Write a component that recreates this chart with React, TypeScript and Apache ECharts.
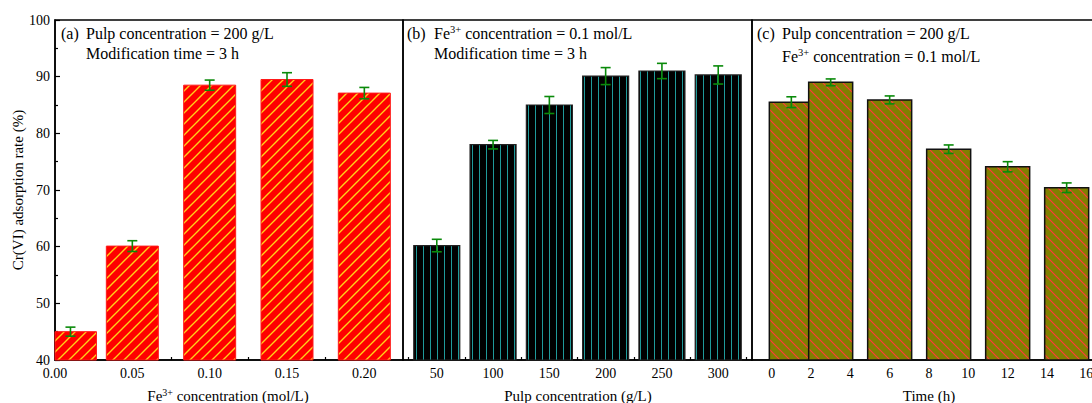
import React, { useEffect, useRef } from 'react';
import * as echarts from 'echarts';

// ---------- data ----------
const feConc = [0.01, 0.05, 0.1, 0.15, 0.2];
const feRate = [45.0, 60.1, 88.5, 89.5, 87.1];
const feErr = [0.8, 0.95, 0.9, 1.2, 1.0];

const pulpConc = [50, 100, 150, 200, 250, 300];
const pulpRate = [60.2, 78.0, 85.0, 90.1, 91.0, 90.3];
const pulpErr = [1.1, 0.75, 1.5, 1.5, 1.35, 1.6];

const timeH = [1, 3, 6, 9, 12, 15];
const timeRate = [85.5, 89.0, 85.9, 77.2, 74.1, 70.4];
const timeErr = [0.95, 0.6, 0.7, 0.75, 0.9, 0.85];

const feTicks = [0, 0.05, 0.1, 0.15, 0.2];
const feMinor = [0.025, 0.075, 0.125, 0.175];
const pulpTicks = [50, 100, 150, 200, 250, 300];
const pulpMinor = [25, 75, 125, 175, 225, 275, 325];
const timeTicks = [0, 2, 4, 6, 8, 10, 12, 14, 16];
const timeMinor = [1, 3, 5, 7, 9, 11, 13, 15];

const serif = "'Liberation Serif', 'Times New Roman', serif";

function makePattern(bg: string, line: string, size: number, kind: string, lw: number) {
  const c = document.createElement('canvas');
  c.width = size;
  c.height = size;
  const g = c.getContext('2d')!;
  g.fillStyle = bg;
  g.fillRect(0, 0, size, size);
  g.strokeStyle = line;
  g.lineWidth = lw;
  g.beginPath();
  if (kind === 'vert') {
    g.moveTo(size / 2, 0);
    g.lineTo(size / 2, size);
  } else if (kind === 'fwd') {
    g.moveTo(0, size); g.lineTo(size, 0);
    g.moveTo(-size / 2, size / 2); g.lineTo(size / 2, -size / 2);
    g.moveTo(size / 2, size * 1.5); g.lineTo(size * 1.5, size / 2);
  } else {
    g.moveTo(0, 0); g.lineTo(size, size);
    g.moveTo(-size / 2, size / 2); g.lineTo(size / 2, size * 1.5);
    g.moveTo(size / 2, -size / 2); g.lineTo(size * 1.5, size / 2);
  }
  g.stroke();
  return { image: c.toDataURL(), repeat: 'repeat', imageWidth: size, imageHeight: size } as any;
}

// bars drawn through the axes' scales, clipped to the plot rectangle
function barSeries(xIdx: number, yIdx: number, xs: number[], ys: number[], width: number, fill: any, stroke: string, lw: number) {
  return {
    type: 'custom',
    xAxisIndex: xIdx,
    yAxisIndex: yIdx,
    z: 2,
    encode: { x: 0, y: 1 },
    data: xs.map((x, i) => [x, ys[i]]),
    renderItem: (params: any, api: any) => {
      const top = api.coord([api.value(0), api.value(1)]);
      const cs = params.coordSys;
      const bottom = cs.y + cs.height;
      const rect = echarts.graphic.clipRectByRect(
        { x: top[0] - width / 2, y: top[1], width, height: bottom - top[1] },
        { x: cs.x, y: cs.y, width: cs.width, height: cs.height }
      );
      if (!rect) return null;
      return {
        type: 'rect',
        shape: rect,
        style: { fill, stroke, lineWidth: lw },
      };
    },
  };
}

function errSeries(xIdx: number, yIdx: number, xs: number[], ys: number[], es: number[]) {
  return {
    type: 'custom',
    xAxisIndex: xIdx,
    yAxisIndex: yIdx,
    z: 5,
    encode: { x: 0, y: [1, 2] },
    data: xs.map((x, i) => [x, ys[i] - es[i], ys[i] + es[i]]),
    renderItem: (params: any, api: any) => {
      const x = api.value(0);
      const lo = api.coord([x, api.value(1)]);
      const hi = api.coord([x, api.value(2)]);
      const w = 5;
      const st = { stroke: '#0a8a0a', lineWidth: 1.6 };
      return {
        type: 'group',
        children: [
          { type: 'line', shape: { x1: hi[0], y1: hi[1], x2: lo[0], y2: lo[1] }, style: st },
          { type: 'line', shape: { x1: hi[0] - w, y1: hi[1], x2: hi[0] + w, y2: hi[1] }, style: st },
          { type: 'line', shape: { x1: lo[0] - w, y1: lo[1], x2: lo[0] + w, y2: lo[1] }, style: st },
        ],
      };
    },
  };
}

function mainX(grid: number, min: number, max: number, ticks: number[], fmt: (v: number) => string) {
  return {
    type: 'value', gridIndex: grid, min, max, position: 'bottom',
    axisLine: { show: true, onZero: false, lineStyle: { color: '#000', width: 1.5 } },
    axisTick: { show: true, inside: true, length: 5, customValues: ticks, lineStyle: { color: '#000', width: 1.2 } },
    axisLabel: { show: true, customValues: ticks, formatter: fmt, color: '#000', fontSize: 14, fontFamily: serif, margin: 6 },
    splitLine: { show: false },
  };
}
function minorX(grid: number, min: number, max: number, ticks: number[]) {
  return {
    type: 'value', gridIndex: grid, min, max, position: 'bottom',
    axisLine: { show: false, onZero: false },
    axisTick: { show: true, inside: true, length: 3, customValues: ticks, lineStyle: { color: '#000', width: 1.2 } },
    axisLabel: { show: false },
    splitLine: { show: false },
  };
}

const richStyle = {
  n: { fontSize: 16, fontFamily: serif, lineHeight: 19, fill: '#000' },
  s: { fontSize: 10.5, fontFamily: serif, lineHeight: 19, verticalAlign: 'top', fill: '#000' },
  m: { fontSize: 15, fontFamily: serif, lineHeight: 18, fill: '#000' },
  t: { fontSize: 10, fontFamily: serif, lineHeight: 18, verticalAlign: 'top', fill: '#000' },
};
function label(x: number, y: number, text: string, extra: any = {}) {
  return {
    type: 'text', x, y, z: 100, ...extra,
    style: { text, rich: richStyle, fontFamily: serif, fontSize: 15, fill: '#000', verticalAlign: 'middle', align: 'left', ...(extra.style || {}) },
  };
}

export default function App() {
  const ref = useRef<HTMLDivElement>(null);
  useEffect(() => {
    document.body.style.margin = '0';
    const chart = echarts.init(ref.current!, undefined, { renderer: 'svg' });
    const patA = makePattern('#ff0000', '#ffd21a', 11, 'fwd', 1.4);
    const patB = makePattern('#000000', '#1f9a9a', 7, 'vert', 1);
    const patC = makePattern('#808000', '#ff3a3a', 10, 'back', 1.2);

    const option: any = {
      animation: false,
      grid: [
        { left: 55, top: 20, width: 348, height: 340, show: true, borderColor: '#000', borderWidth: 1.5 },
        { left: 403, top: 20, width: 349, height: 340, show: true, borderColor: '#000', borderWidth: 1.5 },
        { left: 752, top: 20, width: 354, height: 340, show: true, borderColor: '#000', borderWidth: 1.5 },
      ],
      xAxis: [
        mainX(0, 0, 0.225, feTicks, (v: number) => v.toFixed(2)),
        mainX(1, 20, 330, pulpTicks, (v: number) => String(v)),
        mainX(2, -1, 17, timeTicks, (v: number) => String(v)),
        minorX(0, 0, 0.225, feMinor),
        minorX(1, 20, 330, pulpMinor),
        minorX(2, -1, 17, timeMinor),
      ],
      yAxis: [
        {
          type: 'value', gridIndex: 0, min: 40, max: 100, interval: 10,
          axisLine: { show: true, lineStyle: { color: '#000', width: 1.5 } },
          axisTick: { show: true, inside: true, length: 5, lineStyle: { color: '#000', width: 1.2 } },
          minorTick: { show: true, splitNumber: 2, length: 3, lineStyle: { color: '#000', width: 1.2 } },
          axisLabel: { color: '#000', fontSize: 14, fontFamily: serif, margin: 5 },
          splitLine: { show: false },
        },
        { type: 'value', gridIndex: 1, min: 40, max: 100, interval: 10, show: false },
        { type: 'value', gridIndex: 2, min: 40, max: 100, interval: 10, show: false },
      ],
      series: [
        barSeries(0, 0, feConc, feRate, 52, patA, '#ff1a1a', 1),
        barSeries(1, 1, pulpConc, pulpRate, 46, patB, '#222', 1.2),
        barSeries(2, 2, timeH, timeRate, 44, patC, '#111', 1.5),
        errSeries(0, 0, feConc, feRate, feErr),
        errSeries(1, 1, pulpConc, pulpRate, pulpErr),
        errSeries(2, 2, timeH, timeRate, timeErr),
      ],
      graphic: [
        label(61, 33, '{n|(a)}'),
        label(86, 33, '{n|Pulp concentration = 200 g/L}'),
        label(86, 53, '{n|Modification time = 3 h}'),
        label(407, 33, '{n|(b)}'),
        label(434, 33, '{n|Fe}{s|3+}{n| concentration = 0.1 mol/L}'),
        label(434, 53, '{n|Modification time = 3 h}'),
        label(757, 33, '{n|(c)}'),
        label(782, 33, '{n|Pulp concentration = 200 g/L}'),
        label(782, 56, '{n|Fe}{s|3+}{n| concentration = 0.1 mol/L}'),
        label(228, 396, '{m|Fe}{t|3+}{m| concentration (mol/L)}', { style: { align: 'center' } }),
        label(578, 396, '{m|Pulp concentration (g/L)}', { style: { align: 'center' } }),
        label(929, 396, '{m|Time (h)}', { style: { align: 'center' } }),
        label(18, 190, '{m|Cr(VI) adsorption rate (%)}', { rotation: Math.PI / 2, style: { align: 'center' } }),
      ],
    };
    chart.setOption(option);
    return () => chart.dispose();
  }, []);
  return (
    <div style={{ width: 1092, height: 403, overflow: 'hidden', position: 'relative' }}>
      <div ref={ref} style={{ width: 1110, height: 403 }} />
    </div>
  );
}
